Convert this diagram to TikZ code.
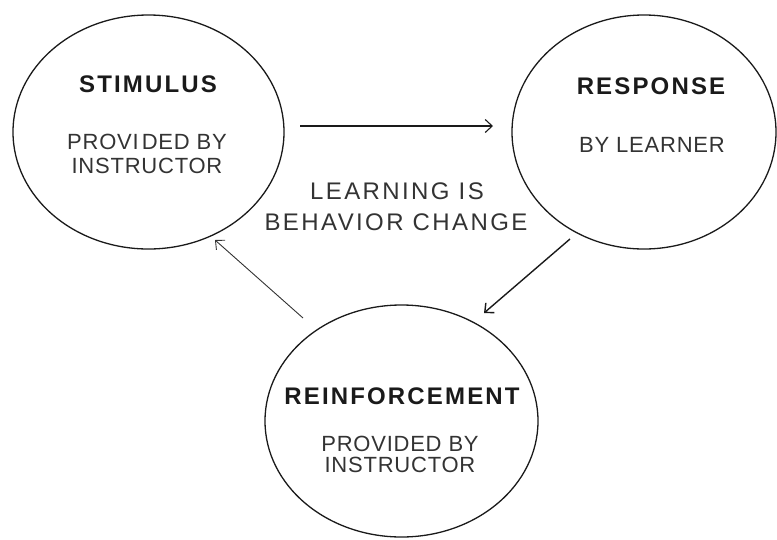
\documentclass[tikz,border=0pt]{standalone}
\usepackage{fontspec}
\setmainfont{Liberation Sans}
\usetikzlibrary{shapes.geometric,arrows.meta}
\newfontfamily\titlefont[LetterSpace=9]{Liberation Sans Bold}
\newfontfamily\bodyfont[LetterSpace=3.5]{Liberation Sans}
\newfontfamily\centerfont[LetterSpace=10]{Liberation Sans}
\definecolor{ink}{HTML}{1A1A1A}
\definecolor{soft}{HTML}{333333}
\begin{document}
\begin{tikzpicture}[x=1pt,y=-1pt,
  bubble/.style={ellipse, draw=ink, line width=1.3pt, inner sep=0pt},
  title/.style={anchor=base, inner sep=0pt, text=ink, font=\titlefont\fontsize{24}{28}\selectfont},
  body/.style={anchor=base, inner sep=0pt, text=soft, font=\bodyfont\fontsize{22}{25}\selectfont},
  mid/.style={anchor=base, inner sep=0pt, text=soft, font=\centerfont\fontsize{24}{28}\selectfont},
  link/.style={-{Straight Barb[length=7pt,width=13pt]}, line width=1.1pt, draw=ink},
  ]
\useasboundingbox (0,0) rectangle (777,539);
\node[bubble, minimum width=271pt, minimum height=234pt] (stim) at (148.5,132) {};
\node[bubble, minimum width=264pt, minimum height=234pt] (resp) at (644,132) {};
\node[bubble, minimum width=273pt, minimum height=232pt] (reinf) at (401.5,421) {};
% texts
\node[title] (stimT) at (148,92) {STIMULUS};
\node[body] (stimA) at (147,149) {PROVI\kern3pt DED BY};
\node[body] (stimB) at (147,173) {INSTRUCTOR};
\node[title] (respT) at (651,94) {RESPONSE};
\node[body] (respA) at (652,152) {BY LEARNER};
\node[title] (reinfT) at (402,404) {REINFORCEMENT};
\node[body] (reinfA) at (400,451) {PROVIDED BY};
\node[body] (reinfB) at (400,472) {INSTRUCTOR};
\node[mid] (learnA) at (397,199) {LEARNING IS};
\node[mid] (learnB) at (396,230) {BEHAVIOR CHANGE};
% connector ends
\coordinate (a1) at (300,126);
\coordinate (a2) at (493,126);
\coordinate (b1) at (570,239);
\coordinate (b2) at (484,313);
\coordinate (c1) at (303,318);
\coordinate (c2) at (215,240);
\draw[link] (a1) -- (a2);
\draw[link, line width=1.4pt] (b1) -- (b2);
\draw[link, line width=0.9pt, draw=soft] (c1) -- (c2);
\end{tikzpicture}
\end{document}
